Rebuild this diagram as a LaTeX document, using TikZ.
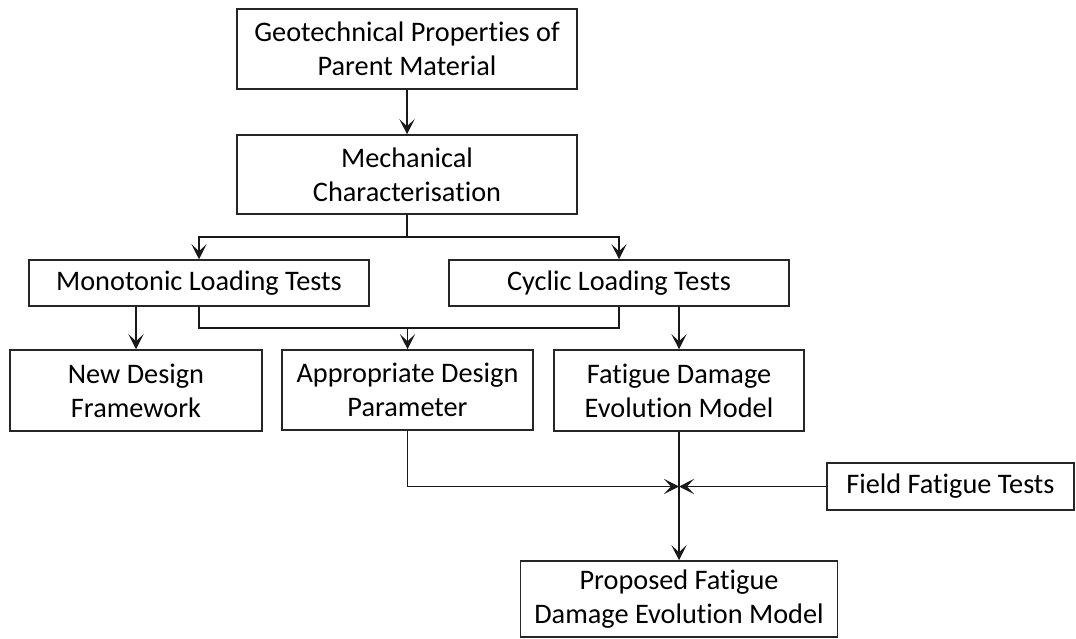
\documentclass[tikz,border=0pt]{standalone}
\usepackage{fontspec}
\setmainfont{Carlito}[Ligatures=NoCommon]
\usetikzlibrary{arrows.meta}
\begin{document}
\begin{tikzpicture}[x=1pt,y=-1pt,
  box/.style={draw=black!85, line width=1.5pt, align=center, inner sep=0pt, text=black, font=\fontsize{28.3}{34}\selectfont},
  arr/.style={draw=black!90, line width=1.5pt, -{Stealth[length=15pt,width=15pt,inset=7pt]}},
  ln/.style={draw=black!90, line width=1.5pt}]
\useasboundingbox (0,0) rectangle (1076,639);
\node[box, minimum width=340pt, minimum height=80pt] (b1) at (407,49) {Geotechnical Properties of\\Parent Material};
\node[box, minimum width=340pt, minimum height=79pt] (b2) at (407,174.5) {Mechanical\\Characterisation};
\node[box, minimum width=340pt, minimum height=46pt] (mono) at (199,283) {Monotonic Loading Tests};
\node[box, minimum width=340pt, minimum height=46pt] (cyc) at (619,283) {Cyclic Loading Tests};
\node[box, minimum width=252pt, minimum height=81pt] (ndf) at (136,390.5) {New Design\\Framework};
\node[box, minimum width=251pt, minimum height=80pt] (adp) at (407.5,390) {Appropriate Design\\Parameter};
\node[box, minimum width=250pt, minimum height=81pt] (fdem) at (679,390.5) {Fatigue Damage\\Evolution Model};
\node[box, minimum width=247pt, minimum height=47pt] (fft) at (950.5,486.5) {Field Fatigue Tests};
\node[box, minimum width=317pt, minimum height=76pt] (pfdem) at (679,599) {Proposed Fatigue\\Damage Evolution Model};
\coordinate (j1) at (407,237);
\coordinate (j2) at (407.5,328);
\draw[arr] (b1) -- (b2);
\draw[ln] (b2.south) -- (j1);
\draw[arr] (j1) -| (mono.north);
\draw[arr] (j1) -| (cyc.north);
\draw[arr] (mono.south -| ndf.north) -- (ndf.north);
\draw[ln] (mono.south) -- (mono.south |- j2) -- (cyc.south |- j2) -- (cyc.south);
\draw[arr] (j2) -- (adp.north);
\draw[arr] (cyc.south -| fdem.north) -- (fdem.north);
\draw[arr] (fdem.south) -- (fdem.south |- pfdem.north);
\coordinate (j3) at (fdem.south |- fft.west);
\draw[arr] (adp.south) |- (j3);
\draw[arr] (fft.west) -- (j3);
\end{tikzpicture}
\end{document}
